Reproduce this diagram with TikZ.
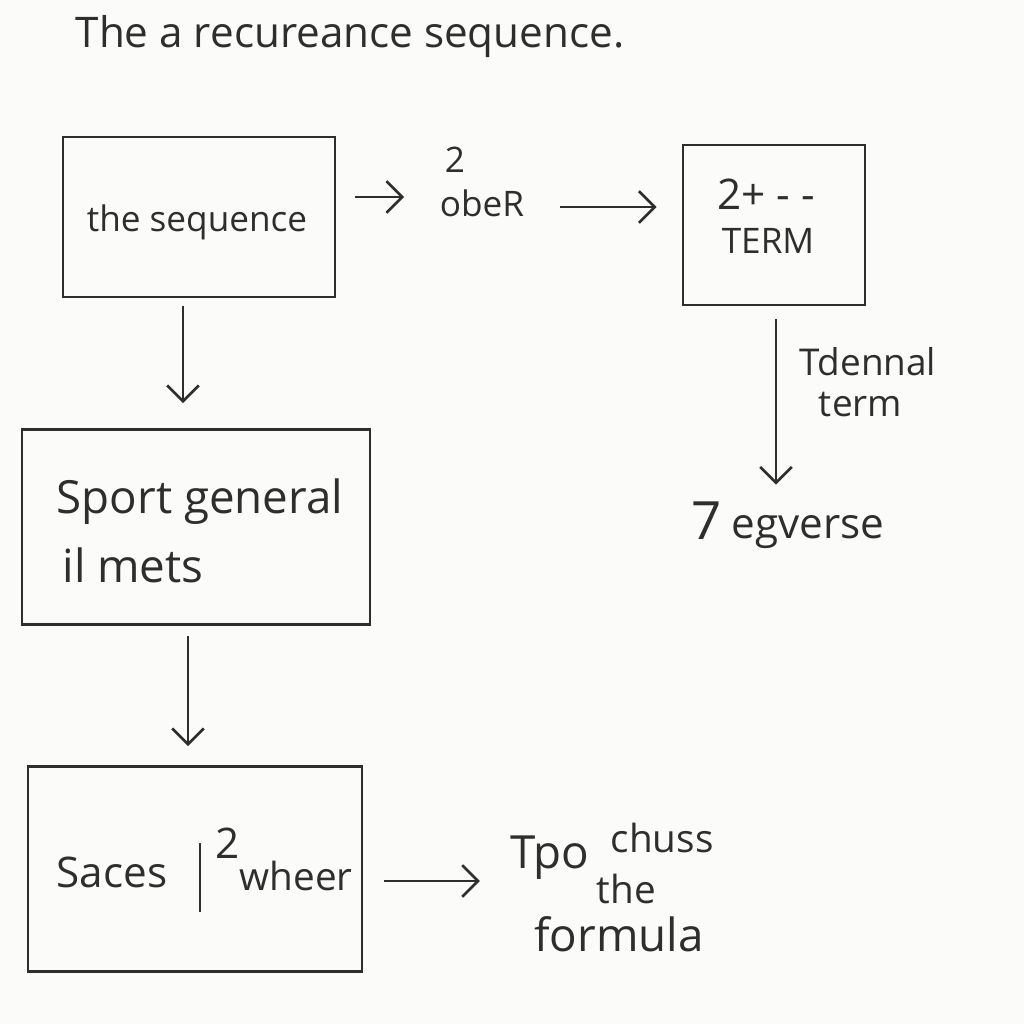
\documentclass[tikz,border=0pt]{standalone}
\usepackage{fontspec}
\setmainfont{Open Sans}
\usetikzlibrary{arrows.meta}
\definecolor{ink}{HTML}{2E2E2E}
\definecolor{paper}{HTML}{FBFBF9}
\begin{document}
\begin{tikzpicture}[x=0.01cm,y=-0.01cm,
  box/.style={draw=ink, line width=0.75pt, inner sep=0pt, text=ink},
  lbl/.style={text=ink, inner sep=0pt},
  arr/.style={draw=ink, line width=0.75pt, -{Straight Barb[length=4.5pt,width=9pt]}},
  fs10/.style={font=\fontsize{10}{12}\selectfont},
  fs11/.style={font=\fontsize{11}{13}\selectfont},
  fs12/.style={font=\fontsize{12}{14}\selectfont},
  fs13/.style={font=\fontsize{13}{15}\selectfont}]
\fill[paper] (0,0) rectangle (1024,1024);
\useasboundingbox (0,0) rectangle (1024,1024);

% title
\node[lbl, anchor=west, font=\fontsize{12}{14}\selectfont] (title) at (75,37) {The a recureance sequence.};

% boxes
\node[box, minimum width=2.72cm, minimum height=1.6cm] (b1) at (199,217) {};
\node[lbl, fs10] (t1) at (197,222) {the sequence};

\node[box, minimum width=1.82cm, minimum height=1.6cm] (b2) at (774,225) {};
\node[lbl, fs12] (t2a) at (766,194) {2+ - -};
\node[lbl, fs10] (t2b) at (768,241) {TERM};

\node[box, minimum width=3.48cm, minimum height=1.95cm] (b3) at (196,527) {};
\node[lbl, fs13] (t3a) at (200,502) {Sport general};
\node[lbl, fs13] (t3b) at (133,565) {il mets};

\node[box, minimum width=3.34cm, minimum height=2.05cm] (b4) at (195,869) {};
\node[lbl, fs12] (t4a) at (112,872) {Saces};
\node[lbl, fs12] (t4s) at (228,843) {2};
\node[lbl, fs11] (t4b) at (296,876) {wheer};
\coordinate (bartop) at (200,843);
\coordinate (barbot) at (200,912);
\draw[ink, line width=0.75pt] (bartop) -- (barbot);

% free labels
\node[lbl, fs10] (two) at (455,160) {2};
\node[lbl, fs10] (ober) at (482,203) {obeR};
\node[lbl, font=\fontsize{10.5}{12.5}\selectfont, align=left] (tdennal) at (868,382) {Tdennal\\[-1pt]\ \ term};
\node[lbl, font=\fontsize{15}{17}\selectfont] (seven) at (707,521) {7};
\node[lbl, fs12] (egverse) at (808,532) {egverse};
\node[lbl, fs13] (tp) at (550,858) {Tpo};
\node[lbl, font=\fontsize{11}{14.5}\selectfont, align=left, anchor=north west] (chussthe) at (596,822) {\hspace*{0.14cm}chuss\\the};
\node[lbl, fs13] (formula) at (619,934) {formula};

% connectors
\coordinate (a1s) at (355,197);
\draw[arr, shorten >=0.35cm] (a1s) -- (ober.west |- a1s);
\draw[arr, shorten <=0.35cm, shorten >=0.25cm] (ober.east |- b2.west) ++(0,-18) coordinate (a2s) -- (b2.west |- a2s);
\draw[arr, shorten <=0.08cm, shorten >=0.25cm] (b1.south -| 183,0) -- (b3.north -| 183,0);
\draw[arr, shorten <=0.1cm, shorten >=0.19cm] (b3.south -| 188,0) -- (b4.north -| 188,0);
\draw[arr, shorten <=0.13cm, shorten >=0.3cm] (b2.south -| 776,0) -- (egverse.north -| 776,0);
\draw[arr, shorten <=0.21cm, shorten >=0.3cm] (b4.east |- 0,881) -- (tp.west |- 0,881);
\end{tikzpicture}
\end{document}
